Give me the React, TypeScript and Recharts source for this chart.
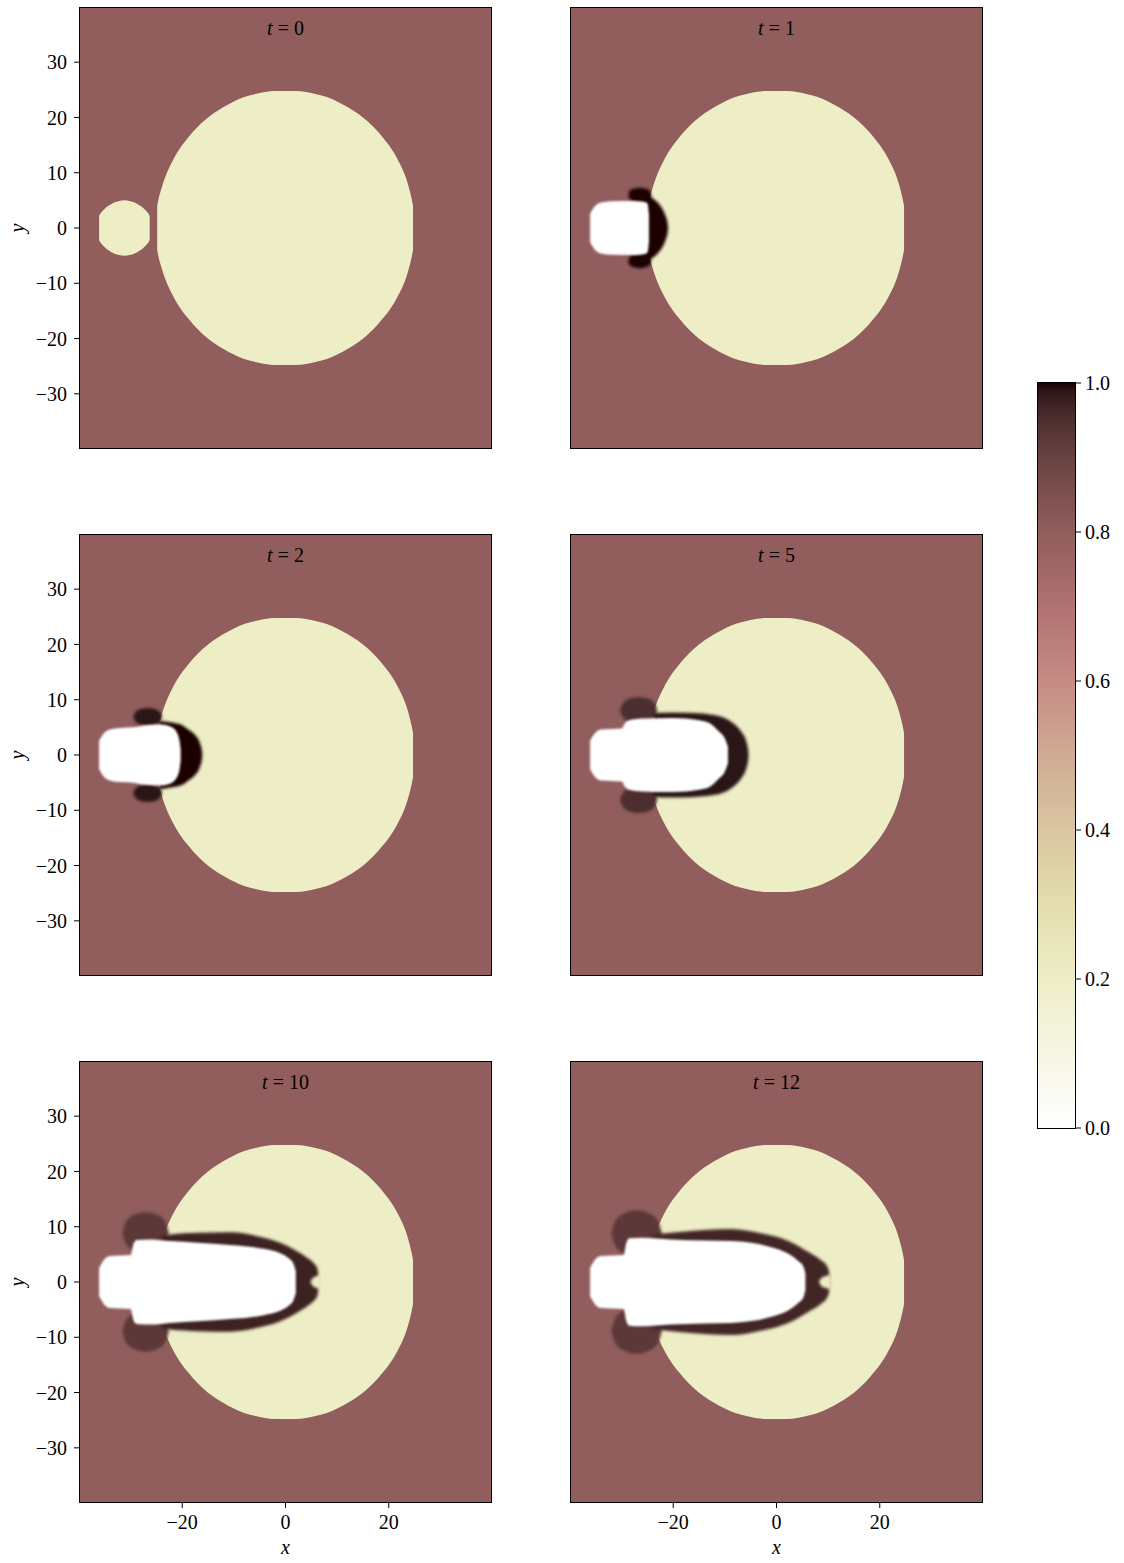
import React from "react"
import { ComposedChart, Area, XAxis, YAxis, CartesianGrid } from "recharts"

const FONT = '"Liberation Serif", "DejaVu Serif", serif'

// pink_r colour map (value -> colour)
const cmapStops = [0, 0.1, 0.2, 0.3, 0.4, 0.5, 0.6, 0.7, 0.8, 0.9, 0.925, 0.95, 0.975, 0.99, 1]
const cmapColors = [
  "#ffffff", "#f6f6e4", "#ededc6", "#e4deae", "#dac6a1", "#d0ab93", "#c68b84",
  "#b07272", "#915d5d", "#694242", "#5c3939", "#4d2f2f", "#3a2121", "#2c1515", "#1e0000",
]

const times = [0, 1, 2, 5, 10, 12]
const xTicks = [-20, 0, 20]
const yTicks = [-30, -20, -10, 0, 10, 20, 30]
const cbarTicks = [0, 0.2, 0.4, 0.6, 0.8, 1]
const extent = [-39.8, 39.8]

const ambientLevel = 0.8
const dropLevel = 0.2

// big drop, half-heights [x, h]
const dropHalf = [
  [-24.85, 4], [-24.6, 5.2], [-24.2, 6.6], [-23.6, 8.4], [-23, 9.9], [-22, 11.9], [-21, 13.6],
  [-20, 15], [-19, 16.2], [-18, 17.3], [-16, 19.2], [-14, 20.7], [-12, 21.9], [-10, 22.9],
  [-8, 23.7], [-6, 24.2], [-4, 24.6], [-2, 24.8], [0, 24.8], [2, 24.8], [4, 24.6], [6, 24.2],
  [8, 23.7], [10, 22.9], [12, 21.9], [14, 20.7], [16, 19.2], [18, 17.3], [19, 16.2], [20, 15],
  [21, 13.6], [22, 11.9], [23, 9.9], [23.5, 8.6], [24.1, 6.6], [24.45, 5.2], [24.7, 4],
]

// t = 0 small drop
const t0Jet = [
  [-36.1, 2.2], [-35.7, 2.8], [-35.2, 3.3], [-34.7, 3.75], [-34.2, 4.05], [-33.2, 4.6], [-32.2, 4.9],
  [-31.2, 5], [-30.2, 4.9], [-29.2, 4.6], [-28.2, 4.05], [-27.7, 3.75], [-27.2, 3.3], [-26.7, 2.8], [-26.3, 2.2],
]

// t = 1
const t1Lobe = [[-28.7, 6, 6], [-28.4, 5.2, 6.8], [-27.6, 4.8, 7.1], [-26.5, 4.6, 7.3], [-25.4, 4.8, 7.1], [-24.6, 5.2, 6.8], [-24.3, 6, 6]]
const t1Front = [[-26.5, 6.2], [-25, 6.0], [-24, 5.4], [-23, 4.6], [-22.2, 3.6], [-21.5, 2.2], [-21.1, 0.9], [-21, 0]]
const t1Jet = [[-36.1, 2.6], [-35.6, 3.4], [-35, 4.1], [-34, 4.6], [-32, 4.85], [-28, 4.9], [-26, 4.8], [-25, 4.5], [-24.7, 2.5]]

// t = 2
const t2Lobe = [[-29.5, 6.9, 6.9], [-29.1, 6.1, 7.7], [-28.1, 5.5, 8.3], [-26.7, 5.3, 8.5], [-25.3, 5.5, 8.3], [-24.3, 6.1, 7.7], [-23.9, 6.9, 6.9]]
const t2Front = [[-24.5, 6.2], [-23, 6.0], [-21.5, 5.8], [-20, 5.4], [-18.8, 4.6], [-17.5, 3.6], [-16.6, 2.2], [-16.2, 0.8], [-16.1, 0]]
const t2Jet = [[-36.1, 2.6], [-35.6, 3.4], [-35, 4.1], [-34, 4.6], [-32, 4.9], [-29.5, 5.0], [-27, 5.4], [-24, 5.5], [-22, 5.0], [-21, 4.0], [-20.5, 2.5], [-20.3, 1]]

// t = 5
const t5Lobe = [[-30.3, 8.1, 8.1], [-29.8, 6.9, 9.3], [-28.5, 6, 10.2], [-26.7, 5.7, 10.5], [-24.9, 6, 10.2], [-23.6, 6.9, 9.3], [-23.1, 8.1, 8.1]]
const t5Front = [[-24, 7.6], [-20, 7.7], [-16, 7.6], [-12.5, 7.3], [-10, 6.7], [-8.2, 5.6], [-6.8, 4.2], [-5.9, 2.6], [-5.5, 1], [-5.4, 0]]
const t5Jet = [[-36.1, 2.6], [-35.6, 3.4], [-35, 4.1], [-34, 4.6], [-32, 4.7], [-30, 4.8], [-29.3, 5.8], [-28.5, 6.3], [-26, 6.6], [-20, 6.7], [-15, 6.3], [-13, 5.8], [-11.3, 4.4], [-10, 3.0], [-9.4, 1.5]]

// t = 10
const t10Lobe = [[-31.6, 8.9, 8.9], [-31, 7.1, 10.7], [-29.4, 5.7, 12.1], [-27.1, 5.2, 12.6], [-24.8, 5.7, 12.1], [-23.2, 7.1, 10.7], [-22.6, 8.9, 8.9]]
const t10Front = [[-24, 8.4], [-22.3, 8.6], [-17, 8.9], [-10.7, 9.0], [-5, 8.2], [-1, 7.1], [2, 5.7], [4.2, 4.4], [5.5, 3.4], [6.2, 2.4], [6.5, 0]]
const t10Notch = [[4.8, 0], [5.4, 0.8], [6.1, 1.1], [7, 1.3]]
const t10Jet = [[-36.1, 2.6], [-35.6, 3.4], [-35, 4.2], [-34, 4.7], [-32, 4.8], [-30, 4.9], [-29.4, 7.0], [-28.8, 7.6], [-26, 7.7], [-22.3, 7.4], [-17, 7.1], [-10.7, 6.7], [-4.2, 6.0], [-1, 5.2], [0.5, 4.4], [1.5, 3.4], [2, 2.0]]

// t = 12
const t12Lobe = [[-32, 8.8, 8.8], [-31.3, 6.7, 10.9], [-29.6, 5.2, 12.4], [-27.1, 4.6, 13.0], [-24.6, 5.2, 12.4], [-22.9, 6.7, 10.9], [-22.2, 8.8, 8.8]]
const t12Front = [[-24, 8.6], [-20.4, 8.9], [-14, 9.4], [-8.7, 9.6], [-3, 8.8], [2.3, 7.4], [6, 5.5], [8.7, 3.9], [9.7, 3.0], [10.2, 1.8], [10.3, 0]]
const t12Notch = [[8.2, 0], [8.8, 0.8], [9.6, 1.1], [10.6, 1.3]]
const t12Jet = [[-36.1, 2.6], [-35.6, 3.4], [-35, 4.2], [-34, 4.7], [-32, 4.8], [-29.6, 4.9], [-29.1, 7.0], [-28.5, 7.9], [-26, 8.0], [-20.4, 7.7], [-14, 7.5], [-8.7, 7.4], [-1, 6.3], [2.5, 5.0], [4.2, 3.8], [5.2, 2.8], [5.6, 1.5]]

const sym = (half: number[][]) => half.map(([x, h]) => ({ x, y: [-h, h] }))
const top = (pts: number[][]) => pts.map(([x, lo, hi]) => ({ x, y: [lo, hi] }))
const bottom = (pts: number[][]) => pts.map(([x, lo, hi]) => ({ x, y: [-hi, -lo] }))

function hexMix(a: string, b: string, f: number) {
  const pa = [1, 3, 5].map((i) => parseInt(a.slice(i, i + 2), 16))
  const pb = [1, 3, 5].map((i) => parseInt(b.slice(i, i + 2), 16))
  return "rgb(" + pa.map((v, i) => Math.round(v + (pb[i] - v) * f)).join(",") + ")"
}

function colorOf(v: number) {
  for (let i = 1; i < cmapStops.length; i++) {
    if (v <= cmapStops[i]) {
      const f = (v - cmapStops[i - 1]) / (cmapStops[i] - cmapStops[i - 1])
      return hexMix(cmapColors[i - 1], cmapColors[i], f)
    }
  }
  return cmapColors[cmapColors.length - 1]
}

type Layer = { data: { x: number; y: number[] }[]; level: number; soft?: string }

const panels: Layer[][] = [
  [{ data: sym(t0Jet), level: dropLevel }],
  [
    { data: top(t1Lobe), level: 1, soft: "soft" },
    { data: bottom(t1Lobe), level: 1, soft: "soft" },
    { data: sym(t1Front), level: 1, soft: "soft" },
    { data: sym(t1Jet), level: 0, soft: "softer" },
  ],
  [
    { data: top(t2Lobe), level: 0.99, soft: "soft" },
    { data: bottom(t2Lobe), level: 0.99, soft: "soft" },
    { data: sym(t2Front), level: 1, soft: "soft" },
    { data: sym(t2Jet), level: 0, soft: "softer" },
  ],
  [
    { data: top(t5Lobe), level: 0.95, soft: "soft" },
    { data: bottom(t5Lobe), level: 0.95, soft: "soft" },
    { data: sym(t5Front), level: 0.99, soft: "soft" },
    { data: sym(t5Jet), level: 0, soft: "softer" },
  ],
  [
    { data: top(t10Lobe), level: 0.925, soft: "soft" },
    { data: bottom(t10Lobe), level: 0.925, soft: "soft" },
    { data: sym(t10Front), level: 0.97, soft: "soft" },
    { data: sym(t10Notch), level: dropLevel, soft: "soft" },
    { data: sym(t10Jet), level: 0, soft: "softer" },
  ],
  [
    { data: top(t12Lobe), level: 0.925, soft: "soft" },
    { data: bottom(t12Lobe), level: 0.925, soft: "soft" },
    { data: sym(t12Front), level: 0.965, soft: "soft" },
    { data: sym(t12Notch), level: dropLevel, soft: "soft" },
    { data: sym(t12Jet), level: 0, soft: "softer" },
  ],
]

const fmtTick = (v: number) => (v < 0 ? "\u2212" + Math.abs(v) : String(v))
const tickStyle = { fill: "#000", fontSize: 20, fontFamily: FONT }

function Panel({ idx }: { idx: number }) {
  const col = idx % 2
  const row = Math.floor(idx / 2)
  const showY = col === 0
  const showX = row === 2
  const width = 495
  const height = showX ? 492 : 452
  return (
    <div style={{ position: "absolute", left: col === 0 ? 0 : 491, top: row * 527, width, height }}>
      <ComposedChart
        width={width}
        height={height}
        margin={{ top: 8, right: 4, bottom: 4, left: showY ? 20 : 80 }}
      >
        <CartesianGrid fill={colorOf(ambientLevel)} horizontal={false} vertical={false} />
        <XAxis
          type="number"
          dataKey="x"
          domain={extent}
          allowDataOverflow
          ticks={xTicks}
          interval={0}
          hide={!showX}
          height={40}
          tickSize={6}
          tickMargin={7}
          axisLine={false}
          tickLine={{ stroke: "#000" }}
          tick={tickStyle}
          tickFormatter={fmtTick}
        />
        <YAxis
          type="number"
          domain={extent}
          allowDataOverflow
          ticks={yTicks}
          interval={0}
          hide={!showY}
          width={60}
          tickSize={6}
          tickMargin={7}
          axisLine={false}
          tickLine={{ stroke: "#000" }}
          tick={tickStyle}
          tickFormatter={fmtTick}
        />
        <Area
          data={sym(dropHalf)}
          dataKey="y"
          type="monotone"
          stroke="none"
          fill={colorOf(dropLevel)}
          fillOpacity={1}
          dot={false}
          activeDot={false}
          isAnimationActive={false}
        />
        {panels[idx].map((layer, i) => (
          <Area
            key={i}
            data={layer.data}
            dataKey="y"
            type="monotone"
            className={layer.soft}
            stroke="none"
            fill={colorOf(layer.level)}
            fillOpacity={1}
            dot={false}
            activeDot={false}
            isAnimationActive={false}
          />
        ))}
      </ComposedChart>
      <div
        style={{
          position: "absolute",
          left: 79,
          top: 7,
          width: 413,
          height: 442,
          border: "1px solid #000",
          boxSizing: "border-box",
          pointerEvents: "none",
        }}
      />
    </div>
  )
}

function ColorBar() {
  const data = [
    { x: 0, y: [0, 1] },
    { x: 1, y: [0, 1] },
  ]
  return (
    <div style={{ position: "absolute", left: 1000, top: 363, width: 124, height: 790 }}>
      <ComposedChart width={124} height={790} margin={{ top: 20, right: 0, bottom: 25, left: 38 }}>
        <XAxis type="number" dataKey="x" domain={[0, 1]} hide />
        <YAxis
          type="number"
          orientation="right"
          domain={[0, 1]}
          ticks={cbarTicks}
          interval={0}
          width={49}
          tickSize={6}
          tickMargin={4}
          axisLine={false}
          tickLine={{ stroke: "#000" }}
          tick={tickStyle}
          tickFormatter={(v: number) => v.toFixed(1)}
        />
        <Area
          data={data}
          dataKey="y"
          type="linear"
          stroke="none"
          fill="url(#cbarGrad)"
          fillOpacity={1}
          dot={false}
          activeDot={false}
          isAnimationActive={false}
        />
      </ComposedChart>
      <div
        style={{
          position: "absolute",
          left: 37,
          top: 19,
          width: 39,
          height: 747,
          border: "1px solid #000",
          boxSizing: "border-box",
          pointerEvents: "none",
        }}
      />
    </div>
  )
}

export default function App() {
  return (
    <div style={{ position: "absolute", left: 0, top: 0, width: 1124, height: 1563, background: "#fff" }}>
      <style>{`.soft .recharts-area-area{filter:url(#soft)} .softer .recharts-area-area{filter:url(#softer)}`}</style>
      <svg width={0} height={0} style={{ position: "absolute" }}>
        <defs>
          <filter id="soft" x="-50%" y="-50%" width="200%" height="200%">
            <feGaussianBlur stdDeviation={1.8} />
          </filter>
          <filter id="softer" x="-50%" y="-50%" width="200%" height="200%">
            <feGaussianBlur stdDeviation={1.1} />
          </filter>
          <linearGradient id="cbarGrad" x1="0" y1="0" x2="0" y2="1">
            {cmapStops
              .map((s, i) => ({ off: 1 - s, c: cmapColors[i] }))
              .reverse()
              .map((st, i) => (
                <stop key={i} offset={st.off} stopColor={st.c} />
              ))}
          </linearGradient>
        </defs>
      </svg>
      {times.map((_, i) => (
        <Panel key={i} idx={i} />
      ))}
      <ColorBar />
      <svg
        width={1124}
        height={1563}
        style={{ position: "absolute", left: 0, top: 0, pointerEvents: "none" }}
        fontFamily={FONT}
        fontSize={20}
      >
        {times.map((t, i) => {
          const col = i % 2
          const row = Math.floor(i / 2)
          return (
            <text key={t} x={col === 0 ? 285.5 : 776.5} y={35 + row * 527} textAnchor="middle" fill="#000">
              <tspan fontStyle="italic">t</tspan> = {t}
            </text>
          )
        })}
        {[0, 1, 2].map((row) => (
          <text
            key={row}
            transform={`translate(24,${228 + row * 527}) rotate(-90)`}
            textAnchor="middle"
            fontStyle="italic"
            fill="#000"
          >
            y
          </text>
        ))}
        {[285.5, 776.5].map((x) => (
          <text key={x} x={x} y={1554} textAnchor="middle" fontStyle="italic" fill="#000">
            x
          </text>
        ))}
      </svg>
    </div>
  )
}
